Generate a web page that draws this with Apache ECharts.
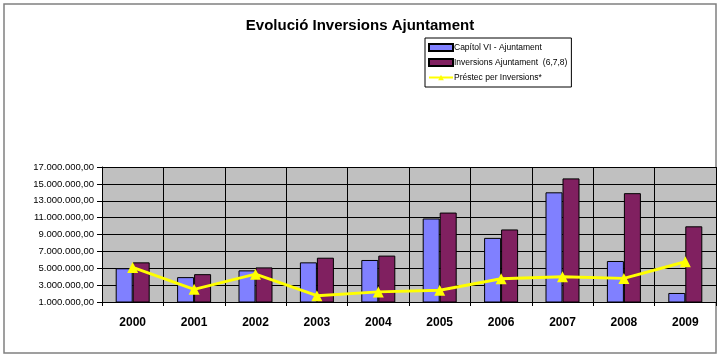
<!DOCTYPE html>
<html>
<head>
<meta charset="utf-8">
<script src="https://cdn.jsdelivr.net/npm/echarts@6/dist/echarts.min.js"></script>
<style>html,body{margin:0;padding:0;background:#fff}#c{width:720px;height:358px}</style>
</head>
<body>
<div id="c"></div>
<script>
var categories = ['2000','2001','2002','2003','2004','2005','2006','2007','2008','2009'];
var capitolVI = [5000000, 3950000, 4750000, 5700000, 5980000, 10900000, 8600000, 14000000, 5860000, 2070000];
var inversions = [5700000, 4300000, 5100000, 6250000, 6500000, 11600000, 9600000, 15650000, 13900000, 9970000];
var prestec = [5100000, 2500000, 4300000, 1750000, 2200000, 2400000, 3760000, 4000000, 3800000, 5770000];
var seriesNames = ['Capítol VI - Ajuntament', 'Inversions Ajuntament  (6,7,8)', 'Préstec per Inversions*'];

function fmt(v){
  var s = Math.round(v).toString().replace(/\B(?=(\d{3})+(?!\d))/g, '.');
  return s + ',00';
}
var chart = echarts.init(document.getElementById('c'));
chart.setOption({
  animation: false,
  backgroundColor: '#fff',
  title: {
    text: 'Evolució Inversions Ajuntament',
    left: 355, top: 13, textAlign: 'center',
    textStyle: {fontFamily: 'Liberation Sans, Arial', fontSize: 15, fontWeight: 'bold', color: '#000'}
  },
  graphic: [{
    type: 'rect', shape: {x: 4, y: 4, width: 712, height: 349},
    style: {fill: 'none', stroke: '#808080', lineWidth: 1.5}, silent: true, z: -1
  }],
  legend: {
    orient: 'vertical', left: 425, top: 38,
    itemWidth: 24, itemHeight: 7, itemGap: 6,
    padding: [5, 4, 5, 3],
    backgroundColor: '#fff', borderColor: '#000', borderWidth: 1, borderRadius: 0,
    textStyle: {fontFamily: 'Liberation Sans, Arial', fontSize: 8.5, color: '#000', padding: [0,0,0,-4]},
    data: [
      {name: seriesNames[0], icon: 'rect'},
      {name: seriesNames[1], icon: 'rect'},
      {name: seriesNames[2]}
    ]
  },
  grid: {left: 102, right: 4, top: 167, bottom: 56, containLabel: false,
         show: true, backgroundColor: '#c0c0c0', borderWidth: 0},
  xAxis: {
    type: 'category', data: categories, boundaryGap: true,
    axisLine: {lineStyle: {color: '#000', width: 1}},
    axisTick: {show: true, length: 4, lineStyle: {color: '#000'}},
    axisLabel: {fontFamily: 'Liberation Sans, Arial', fontSize: 12, fontWeight: 'bold', color: '#000', margin: 15},
    splitLine: {show: true, lineStyle: {color: '#000', width: 1}}
  },
  yAxis: {
    type: 'value', min: 1000000, max: 17000000, interval: 2000000,
    axisLine: {show: true, lineStyle: {color: '#000'}},
    axisTick: {show: true, length: 5, lineStyle: {color: '#000'}},
    axisLabel: {formatter: fmt, fontFamily: 'Liberation Sans, Arial', fontSize: 9.5, color: '#000', margin: 8},
    splitLine: {show: true, lineStyle: {color: '#000', width: 1}}
  },
  series: [
    {name: seriesNames[0], type: 'bar', data: capitolVI, barWidth: 17, barGap: '0%',
     itemStyle: {color: '#8080ff', borderColor: '#000', borderWidth: 1}},
    {name: seriesNames[1], type: 'bar', data: inversions, barWidth: 17, barGap: '0%',
     itemStyle: {color: '#802060', borderColor: '#000', borderWidth: 1}},
    {name: seriesNames[2], type: 'line', data: prestec, symbol: 'triangle', symbolSize: 11,
     lineStyle: {color: '#ffff00', width: 3}, itemStyle: {color: '#ffff00'}, z: 5}
  ]
});
</script>
</body>
</html>
